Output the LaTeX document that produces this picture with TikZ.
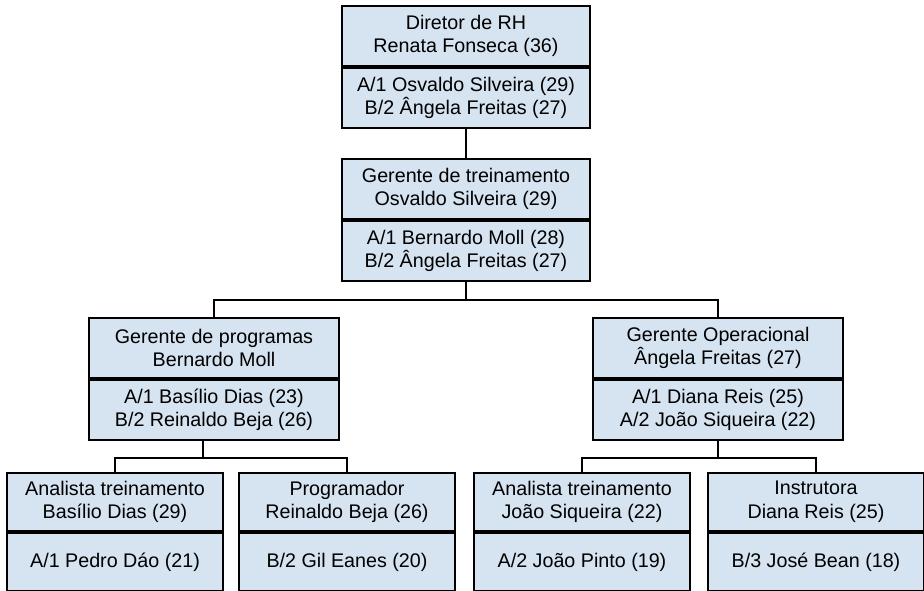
\documentclass[tikz,border=0pt]{standalone}
\usepackage{fontspec}
\setmainfont{Liberation Sans}
\usetikzlibrary{positioning}
\definecolor{boxblue}{RGB}{214,227,240}

\begin{document}
\begin{tikzpicture}[x=1pt,y=-1pt,line width=2pt,
  box/.style={draw,fill=boxblue,align=center,inner sep=0pt,
    font=\fontsize{19.7}{23.5}\selectfont},
  big box/.style={box,minimum width=248pt,minimum height=60pt},
  leaf box/.style={box,minimum width=216pt,minimum height=58pt}]

\useasboundingbox (0,0) rectangle (924,590);

% diretor
\node[big box,anchor=north](TD) at (466,5) {Diretor de RH\\Renata Fonseca (36)};
\node[big box,below=0pt of TD](SD) {A/1 Osvaldo Silveira (29)\\B/2 Ângela Freitas (27)};

% gerente de treinamento
\node[big box,anchor=north](TT) at (466,158) {Gerente de treinamento\\Osvaldo Silveira (29)};
\node[big box,below=0pt of TT](ST) {A/1 Bernardo Moll (28)\\B/2 Ângela Freitas (27)};

% gerentes
\node[big box,minimum width=250pt,anchor=north](TP) at (214,317) {Gerente de programas\\Bernardo Moll};
\node[big box,minimum width=250pt,below=0pt of TP](SP) {A/1 Basílio Dias (23)\\B/2 Reinaldo Beja (26)};
\node[big box,minimum width=250pt,anchor=north](TO) at (718,317) {Gerente Operacional\\Ângela Freitas (27)};
\node[big box,minimum width=250pt,below=0pt of TO](SO) {A/1 Diana Reis (25)\\A/2 João Siqueira (22)};

% equipes
\node[leaf box,anchor=north](TA1) at (115,472) {Analista treinamento\\Basílio Dias (29)};
\node[leaf box,below=0pt of TA1](SA1) {A/1 Pedro Dáo (21)};
\node[leaf box,anchor=north](TPR) at (347,472) {Programador\\Reinaldo Beja (26)};
\node[leaf box,below=0pt of TPR](SPR) {B/2 Gil Eanes (20)};
\node[leaf box,anchor=north](TA2) at (582,472) {Analista treinamento\\João Siqueira (22)};
\node[leaf box,below=0pt of TA2](SA2) {A/2 João Pinto (19)};
\node[leaf box,anchor=north](TI) at (816,472) {Instrutora\\Diana Reis (25)};
\node[leaf box,below=0pt of TI](SI) {B/3 José Bean (18)};

\draw (SD.south) -- (TT.north);
\draw (ST.south) -- ++(0,18) -| (TP.north);
\draw (ST.south) -- ++(0,18) -| (TO.north);
\draw ([xshift=-11pt]SP.south) -- ++(0,17) -| (TA1.north);
\draw ([xshift=-11pt]SP.south) -- ++(0,17) -| (TPR.north);
\draw (SO.south) -- ++(0,17) -| (TA2.north);
\draw (SO.south) -- ++(0,17) -| (TI.north);

\end{tikzpicture}
\end{document}
